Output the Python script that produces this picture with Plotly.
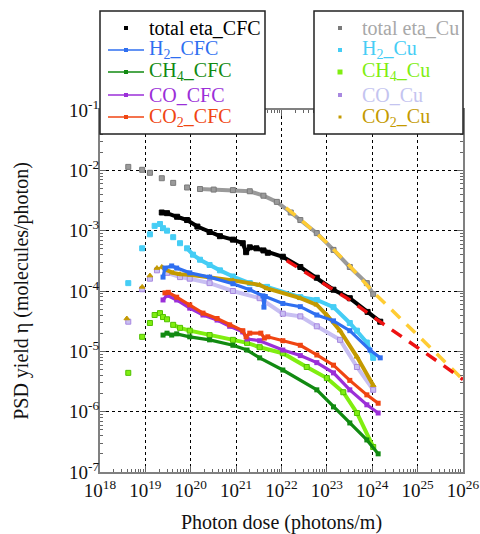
import plotly.graph_objects as go

# ---------------- data ----------------
# total eta, Cu (gray squares)
dose_tot_cu = [4.2e18, 8.5e18, 1.26e19, 2.3e19, 4.1e19, 8.3e19, 1.6e20, 3.2e20, 8.5e20, 2.0e21,
               4.0e21, 7.9e21, 1.6e22, 2.6e22, 6.0e22, 1.4e23, 3.2e23, 7.6e23, 1.05e24]
eta_tot_cu = [1.14e-2, 1.02e-2, 9.1e-3, 7.4e-3, 6.2e-3, 5.2e-3, 4.9e-3, 4.8e-3, 4.7e-3, 4.5e-3,
              3.8e-3, 3.0e-3, 2.0e-3, 1.5e-3, 9.1e-4, 4.8e-4, 2.5e-4, 1.35e-4, 8.9e-5]

# H2, Cu
dose_h2_cu = [4.2e18, 8.5e18, 1.26e19, 1.6e19, 2.1e19, 2.45e19, 3.0e19, 4.1e19, 5.8e19, 8.3e19,
              1.12e20, 1.6e20, 2.6e20, 4.4e20, 8.5e20, 2.0e21, 4.8e21, 2.6e22, 6.0e22, 1.4e23,
              3.2e23, 4.6e23, 7.6e23, 1.05e24]
eta_h2_cu = [1.35e-4, 5.1e-4, 8.7e-4, 1.2e-3, 1.29e-3, 1.1e-3, 1.0e-3, 7.8e-4, 6.2e-4, 5.1e-4,
             4.0e-4, 3.3e-4, 2.7e-4, 2.2e-4, 1.74e-4, 1.35e-4, 1.17e-4, 7.9e-5, 7.1e-5, 5.4e-5,
             2.95e-5, 2.2e-5, 1.4e-5, 7.8e-6]

# CH4, Cu
dose_ch4_cu = [4.2e18, 8.5e18, 1.26e19, 1.6e19, 2.1e19, 2.45e19, 3.0e19, 4.1e19, 5.8e19, 9.5e19,
               2.6e20, 8.5e20, 1.74e21, 3.3e21, 1.07e22, 3.6e22, 1.0e23, 2.3e23, 4.6e23, 1.05e24]
eta_ch4_cu = [4.4e-6, 1.74e-5, 2.95e-5, 4.0e-5, 4.3e-5, 3.7e-5, 3.4e-5, 2.75e-5, 2.45e-5, 2.2e-5,
              1.86e-5, 1.55e-5, 1.38e-5, 1.17e-5, 9.3e-6, 5.5e-6, 3.6e-6, 2.1e-6, 9.5e-7, 2.6e-7]

# CO, Cu
dose_co_cu = [4.2e18, 8.5e18, 1.26e19, 1.8e19, 3.0e19, 5.8e19, 9.5e19, 2.6e20, 8.5e20, 3.3e21,
              1.07e22, 2.6e22, 6.0e22, 1.95e23, 4.6e23, 1.05e24]
eta_co_cu = [3.1e-5, 1.07e-4, 1.6e-4, 2.2e-4, 2.0e-4, 1.7e-4, 1.6e-4, 1.35e-4, 1.0e-4, 7.6e-5,
             4.2e-5, 3.8e-5, 2.6e-5, 1.55e-5, 5.5e-6, 2.3e-6]

# CO2, Cu
dose_co2_cu = [3.9e18, 8.5e18, 1.26e19, 1.8e19, 2.3e19, 3.0e19, 4.1e19, 5.8e19, 9.5e19, 2.6e20,
               8.5e20, 3.3e21, 4.8e21, 2.6e22, 6.0e22, 1.0e23, 1.95e23, 4.6e23, 1.05e24]
eta_co2_cu = [3.5e-5, 1.17e-4, 1.8e-4, 2.4e-4, 2.5e-4, 2.2e-4, 2.0e-4, 1.9e-4, 1.86e-4, 1.7e-4,
              1.5e-4, 1.26e-4, 1.1e-4, 7.6e-5, 5.9e-5, 4.0e-5, 2.2e-5, 8.1e-6, 2.75e-6]

# total eta, CFC (black)
dose_tot_cfc = [2.3e19, 3.0e19, 5.0e19, 8.3e19, 1.4e20, 2.6e20, 4.4e20, 8.5e20, 1.4e21, 1.66e21,
                2.0e21, 2.8e21, 4.0e21, 5.0e21, 1.07e22, 2.6e22, 6.0e22, 1.4e23, 3.2e23, 7.9e23,
                1.5e24]
eta_tot_cfc = [2.0e-3, 1.95e-3, 1.7e-3, 1.5e-3, 1.17e-3, 9.5e-4, 8.1e-4, 7.1e-4, 6.2e-4, 4.4e-4,
               5.3e-4, 5.1e-4, 4.7e-4, 4.3e-4, 3.7e-4, 2.5e-4, 1.66e-4, 1.05e-4, 7.6e-5, 4.5e-5,
               3.1e-5]

# H2, CFC
dose_h2_cfc = [2.45e19, 2.7e19, 3.8e19, 4.9e19, 9.5e19, 2.6e20, 8.5e20, 2.0e21, 3.9e21, 4.1e21,
               4.4e21, 1.07e22, 2.6e22, 6.0e22, 1.4e23, 3.2e23, 8.9e23, 1.5e24]
eta_h2_cfc = [1.7e-4, 2.4e-4, 2.6e-4, 2.4e-4, 2.0e-4, 1.7e-4, 1.32e-4, 1.05e-4, 8.3e-5, 5.4e-5,
              8.1e-5, 6.2e-5, 5.5e-5, 4.0e-5, 3.2e-5, 2.2e-5, 1.05e-5, 7.8e-6]

# CH4, CFC
dose_ch4_cfc = [2.45e19, 3.0e19, 3.8e19, 4.9e19, 9.5e19, 2.6e20, 8.5e20, 1.74e21, 3.3e21, 1.07e22,
                6.0e22, 1.4e23, 3.2e23, 7.6e23, 1.35e24]
eta_ch4_cfc = [1.86e-5, 2.0e-5, 1.86e-5, 1.95e-5, 1.74e-5, 1.55e-5, 1.26e-5, 1.05e-5, 7.8e-6, 4.9e-6,
               2.3e-6, 1.2e-6, 6.5e-7, 3.4e-7, 2.0e-7]

# CO, CFC
dose_co_cfc = [2.45e19, 3.0e19, 4.9e19, 9.5e19, 1.86e20, 3.8e20, 7.2e20, 1.4e21, 1.74e21, 3.3e21,
               1.07e22, 2.6e22, 6.0e22, 1.4e23, 3.2e23, 7.6e23, 1.35e24]
eta_co_cfc = [7.1e-5, 8.5e-5, 7.1e-5, 5.2e-5, 4.0e-5, 3.3e-5, 2.6e-5, 2.1e-5, 1.6e-5, 1.5e-5,
              1.05e-5, 8.5e-6, 6.5e-6, 4.4e-6, 2.3e-6, 1.3e-6, 9.5e-7]

# CO2, CFC
dose_co2_cfc = [2.7e19, 3.2e19, 4.9e19, 9.5e19, 1.86e20, 3.8e20, 7.2e20, 1.4e21, 1.66e21, 2.0e21,
                3.5e21, 4.2e21, 5.0e21, 1.07e22, 2.6e22, 6.0e22, 1.4e23, 3.2e23, 7.6e23, 1.35e24]
eta_co2_cfc = [9.3e-5, 9.5e-5, 7.9e-5, 5.9e-5, 4.3e-5, 3.5e-5, 2.75e-5, 2.2e-5, 1.74e-5, 2.0e-5,
               2.0e-5, 1.66e-5, 1.74e-5, 1.5e-5, 1.26e-5, 8.7e-6, 5.9e-6, 3.3e-6, 1.9e-6, 1.38e-6]

# extrapolations (dashed)
dose_fit_cu = [1.26e22, 3.2e22, 1.0e23, 3.2e23, 1.0e24, 3.2e24, 1.0e25, 3.2e25, 1.0e26]
eta_fit_cu = [2.4e-3, 1.35e-3, 6.3e-4, 2.6e-4, 1.0e-4, 4.2e-5, 1.8e-5, 7.9e-6, 3.4e-6]
dose_fit_cfc = [1.3e22, 3.2e22, 1.0e23, 3.2e23, 1.0e24, 3.2e24, 1.0e25, 3.2e25, 1.0e26]
eta_fit_cfc = [3.2e-4, 2.1e-4, 1.23e-4, 7.1e-5, 3.8e-5, 2.1e-5, 1.17e-5, 6.3e-6, 3.4e-6]

x_exps = list(range(18, 27))
y_exps = list(range(-7, 0))
x_tick_labels = [f"10<sup>{k}</sup>" for k in x_exps]
y_tick_labels = [f"10<sup>{k}</sup>" for k in y_exps]

cfc_names = ["total eta_CFC", "H<sub>2</sub>_CFC", "CH<sub>4</sub>_CFC", "CO_CFC", "CO<sub>2</sub>_CFC"]
cu_names = ["total eta_Cu", "H<sub>2</sub>_Cu", "CH<sub>4</sub>_Cu", "CO_Cu", "CO<sub>2</sub>_Cu"]

# ---------------- styles ----------------
SERIF = "Liberation Serif, Times New Roman, serif"
cfc_colors = ["#000000", "#2f6ff0", "#118a11", "#9b2fd8", "#f04512"]
cu_colors = ["#9a9a9a", "#45cdf5", "#80ee10", "#c8bff2", "#c49a00"]
cu_text_colors = ["#a8a8a8", "#45cdf5", "#80ee10", "#c4c4f0", "#c49a00"]
cu_edges = ["#7a7a7a", "#45cdf5", "#50c000", "#a888e0", "#c49a00"]
cu_symbols = ["square", "square", "square", "square", "triangle-up"]
cu_dense_from = [6, 9, 7, 4, 4]

fig = go.Figure()


def add_points_series(x, y, color, edge, symbol, dense_from, size=5):
    fig.add_trace(go.Scatter(x=x[dense_from:], y=y[dense_from:], mode="lines",
                             line=dict(color=color, width=4), showlegend=False,
                             hoverinfo="skip"))
    fig.add_trace(go.Scatter(x=x, y=y, mode="markers", showlegend=False,
                             marker=dict(symbol=symbol, size=size, color=color,
                                         line=dict(color=edge, width=1))))


def add_line_series(x, y, color):
    fig.add_trace(go.Scatter(x=x, y=y, mode="lines+markers", showlegend=False,
                             line=dict(color=color, width=3.2),
                             marker=dict(symbol="square", size=5, color=color)))


cu_data = [(dose_tot_cu, eta_tot_cu), (dose_h2_cu, eta_h2_cu), (dose_ch4_cu, eta_ch4_cu),
           (dose_co_cu, eta_co_cu), (dose_co2_cu, eta_co2_cu)]
for i, (xs, ys) in enumerate(cu_data):
    add_points_series(xs, ys, cu_colors[i], cu_edges[i], cu_symbols[i], cu_dense_from[i])

add_points_series(dose_tot_cfc, eta_tot_cfc, "#000000", "#000000", "square", 0)
for i, (xs, ys) in enumerate([(dose_h2_cfc, eta_h2_cfc), (dose_ch4_cfc, eta_ch4_cfc),
                              (dose_co_cfc, eta_co_cfc), (dose_co2_cfc, eta_co2_cfc)]):
    add_line_series(xs, ys, cfc_colors[i + 1])

fig.add_trace(go.Scatter(x=dose_fit_cu, y=eta_fit_cu, mode="lines", showlegend=False,
                         line=dict(color="#ffcc33", width=3.5, dash="12px,9px"), hoverinfo="skip"))
fig.add_trace(go.Scatter(x=dose_fit_cfc, y=eta_fit_cfc, mode="lines", showlegend=False,
                         line=dict(color="#ee1111", width=3.5, dash="12px,9px"), hoverinfo="skip"))

# ---------------- axes ----------------
axis_common = dict(
    type="log", showline=True, mirror="allticks", linecolor="#808080", linewidth=2,
    ticks="inside", ticklen=6, tickcolor="#666666", tickwidth=1,
    showgrid=True, gridcolor="#000000", gridwidth=1, griddash="3px,3px",
    zeroline=False, tickfont=dict(family=SERIF, size=19, color="#111111"),
    minor=dict(ticks="inside", ticklen=3, tickcolor="#666666", dtick="D1", showgrid=False),
)

fig.update_xaxes(range=[18, 26], tickmode="array", tickvals=[10.0 ** k for k in x_exps],
                 ticktext=x_tick_labels,
                 title=dict(text="Photon dose (photons/m)", standoff=15,
                            font=dict(family=SERIF, size=20, color="#111111")),
                 **axis_common)
fig.update_yaxes(range=[-7, -1], tickmode="array", tickvals=[10.0 ** k for k in y_exps],
                 ticktext=y_tick_labels, ticklabelstandoff=-5,
                 title=dict(text="PSD yield η (molecules/photon)", standoff=35,
                            font=dict(family=SERIF, size=20, color="#111111")),
                 **axis_common)

# ---------------- hand-made legends (page pixel positions) ----------------
PL, PR, PT, PB = 100, 463, 110, 472  # plot area in page pixels


def px(wx):
    return (wx - PL) / (PR - PL)


def py(wy):
    return (PB - wy) / (PB - PT)


shapes = []
annotations = []
row_y = [28, 50, 72, 95, 117]

# legend 1 (CFC)
shapes.append(dict(type="rect", xref="paper", yref="paper", x0=px(100), x1=px(265),
                   y0=py(134), y1=py(11), fillcolor="white",
                   line=dict(color="#222222", width=1.5), layer="above"))
for i, name in enumerate(cfc_names):
    yy = row_y[i]
    if i > 0:
        shapes.append(dict(type="line", xref="paper", yref="paper", x0=px(108), x1=px(144),
                           y0=py(yy), y1=py(yy), line=dict(color=cfc_colors[i], width=1.5),
                           layer="above"))
    s = 2
    shapes.append(dict(type="rect", xref="paper", yref="paper", x0=px(126 - s), x1=px(126 + s),
                       y0=py(yy + s), y1=py(yy - s), fillcolor=cfc_colors[i],
                       line=dict(width=0), layer="above"))
    annotations.append(dict(text=name, xref="paper", yref="paper", x=px(147), y=py(yy),
                            xanchor="left", yanchor="middle", showarrow=False,
                            font=dict(family=SERIF, size=20, color=cfc_colors[i])))

# legend 2 (Cu)
shapes.append(dict(type="rect", xref="paper", yref="paper", x0=px(314), x1=px(463),
                   y0=py(134), y1=py(11), fillcolor="white",
                   line=dict(color="#222222", width=1.5), layer="above"))
leg2_marker_size = [2, 2, 2.5, 2, 1.5]
for i, name in enumerate(cu_names):
    yy = row_y[i]
    s = leg2_marker_size[i]
    shapes.append(dict(type="rect", xref="paper", yref="paper", x0=px(340 - s), x1=px(340 + s),
                       y0=py(yy + s), y1=py(yy - s),
                       fillcolor=cu_edges[i] if i in (0, 3) else cu_colors[i],
                       line=dict(width=0), layer="above"))
    annotations.append(dict(text=name, xref="paper", yref="paper", x=px(360), y=py(yy),
                            xanchor="left", yanchor="middle", showarrow=False,
                            font=dict(family=SERIF, size=20, color=cu_text_colors[i])))

fig.update_layout(
    width=480, height=534,
    margin=dict(l=PL, r=480 - PR, t=PT, b=534 - PB, autoexpand=False),
    plot_bgcolor="white", paper_bgcolor="white",
    font=dict(family=SERIF, size=20, color="#111111"),
    showlegend=False, shapes=shapes, annotations=annotations,
)

# remove the default page margin so the 480x534 figure fills the window exactly
fig.write_html("out.html", config={"displayModeBar": False},
               post_script="document.body.style.margin='0px';document.body.style.overflow='hidden';")
